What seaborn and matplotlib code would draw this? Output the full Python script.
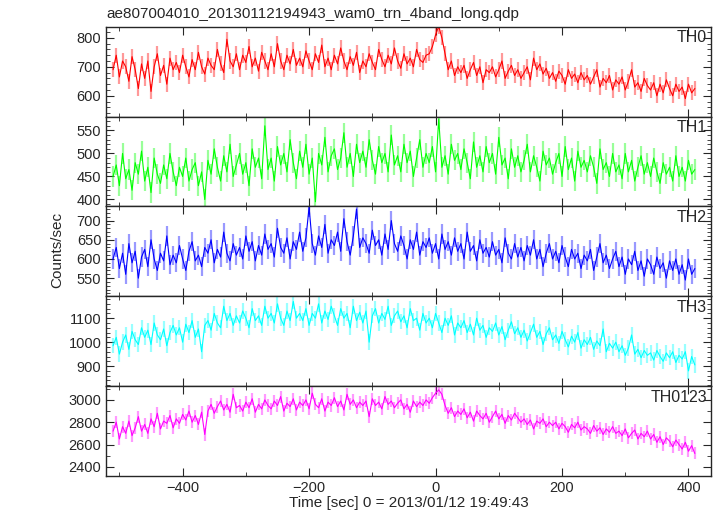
import numpy as np
import pandas as pd
import seaborn as sns
from matplotlib import pyplot as plt
from matplotlib.ticker import MultipleLocator

# light curve values (5 s bins, starting at t = -510 s)
t_start = -510
t_step = 5

th0 = [690, 740, 665, 720, 700, 650, 735, 690, 625, 710,
       660, 720, 615, 700, 745, 670, 705, 640, 730, 690,
       715, 680, 740, 700, 665, 725, 690, 750, 700, 675,
       730, 705, 690, 760, 710, 680, 795, 720, 700, 745,
       690, 740, 715, 770, 700, 730, 685, 750, 720, 690,
       745, 700, 780, 720, 690, 740, 710, 760, 705, 730,
       700, 755, 720, 690, 745, 715, 775, 700, 730, 690,
       740, 710, 765, 720, 690, 735, 705, 750, 680, 720,
       700, 745, 715, 690, 760, 725, 700, 740, 710, 765,
       720, 695, 745, 710, 730, 700, 760, 725, 715, 740,
       745, 770, 810, 840, 800, 745, 690, 720, 670, 700,
       680, 705, 660, 690, 715, 670, 700, 645, 690, 680,
       700, 665, 690, 720, 660, 685, 705, 670, 690, 660,
       680, 700, 655, 730, 690, 710, 675, 695, 660, 680,
       650, 685, 670, 640, 690, 660, 675, 645, 680, 655,
       670, 640, 665, 690, 630, 660, 645, 670, 620, 655,
       640, 665, 620, 650, 690, 630, 645, 615, 660, 635,
       620, 645, 600, 640, 610, 655, 625, 600, 640, 615,
       630, 590, 640, 610, 625]

th1 = [450, 475, 430, 500, 445, 465, 420, 480, 455, 505,
       440, 470, 415, 490, 455, 435, 475, 445, 500, 460,
       430, 470, 450, 490, 440, 465, 480, 430, 460, 400,
       485, 455, 510, 470, 440, 495, 460, 520, 450, 475,
       500, 455, 480, 430, 510, 470, 490, 445, 560, 465,
       490, 440, 515, 475, 500, 460, 530, 480, 445, 505,
       470, 520, 455, 490, 395, 500, 475, 535, 460, 495,
       510, 465, 490, 545, 470, 500, 450, 520, 480, 505,
       470, 530, 485, 455, 515, 480, 500, 460, 540, 475,
       495, 460, 520, 480, 505, 450, 490, 530, 470, 500,
       480, 515, 460, 575, 470, 495, 455, 520, 485, 500,
       465, 510, 480, 445, 525, 470, 495, 460, 515, 480,
       500, 455, 535, 475, 490, 445, 510, 470, 495, 460,
       485, 520, 460, 495, 470, 440, 505, 475, 490, 455,
       480, 500, 450, 515, 465, 490, 440, 505, 470, 485,
       460, 495, 470, 435, 510, 465, 480, 450, 500, 460,
       475, 445, 500, 460, 485, 440, 470, 495, 455, 480,
       450, 490, 460, 435, 480, 455, 470, 440, 495, 450,
       470, 440, 485, 455, 465]

th2 = [600, 630, 575, 615, 560, 640, 590, 620, 550, 605,
       625, 580, 650, 600, 570, 615, 595, 660, 585, 610,
       590, 635, 600, 570, 620, 645, 595, 610, 580, 630,
       615, 650, 590, 625, 605, 670, 615, 595, 640, 610,
       630, 600, 660, 620, 645, 595, 635, 610, 665, 625,
       640, 605, 680, 630, 615, 655, 600, 645, 625, 670,
       620, 655, 735, 640, 610, 660, 630, 690, 615, 650,
       635, 670, 620, 705, 645, 610, 660, 730, 630, 655,
       640, 615, 675, 635, 650, 610, 665, 625, 700, 640,
       620, 660, 635, 600, 650, 625, 670, 610, 645, 630,
       655, 615, 640, 600, 665, 625, 645, 610, 655, 620,
       640, 600, 670, 620, 635, 595, 650, 615, 630, 605,
       645, 610, 625, 590, 655, 615, 600, 640, 605, 630,
       595, 635, 610, 650, 600, 625, 580, 615, 640, 600,
       620, 590, 635, 605, 580, 625, 600, 615, 575, 610,
       595, 625, 570, 605, 640, 590, 610, 575, 600, 620,
       580, 605, 560, 600, 585, 620, 570, 595, 555, 600,
       585, 560, 605, 575, 590, 550, 595, 570, 600, 560,
       585, 545, 600, 560, 575]

th3 = [985, 1020, 950, 1000, 1030, 970, 1045, 1010, 990, 1060,
       1020, 1050, 990, 1080, 1030, 1010, 1055, 985, 1040, 1070,
       1030, 1060, 1000, 1075, 1040, 1090, 1020, 1055, 960, 1070,
       1090, 1050, 1120, 1080, 1060, 1150, 1090, 1120, 1070, 1110,
       1080, 1130, 1100, 1060, 1140, 1090, 1110, 1070, 1150, 1100,
       1120, 1080, 1160, 1100, 1070, 1130, 1090, 1170, 1100, 1120,
       1090, 1140, 1070, 1120, 1100, 1160, 1080, 1130, 1095, 1150,
       1110, 1070, 1140, 1100, 1120, 1060, 1150, 1090, 1125, 1080,
       1130, 1000, 1110, 1140, 1080, 1120, 1095, 1150, 1070, 1110,
       1130, 1085, 1110, 1060, 1140, 1090, 1100, 1050, 1120, 1080,
       1100, 1060, 1120, 1080, 1040, 1100, 1070, 1110, 1030, 1080,
       1060, 1090, 1040, 1075, 1030, 1100, 1050, 1070, 1020, 1060,
       1045, 1080, 1030, 1065, 1010, 1050, 1085, 1035, 1060, 1020,
       1050, 1005, 1040, 1075, 1020, 1045, 990, 1035, 1060, 1010,
       1030, 995, 1045, 1010, 980, 1025, 1000, 1040, 975, 1010,
       990, 1020, 970, 1005, 985, 1055, 960, 995, 975, 1000,
       960, 985, 945, 975, 1030, 950, 970, 935, 965, 945,
       955, 925, 965, 940, 920, 955, 935, 960, 915, 945,
       930, 960, 880, 940, 905]

th0123 = [2720, 2800, 2650, 2760, 2700, 2810, 2680, 2750, 2850, 2720,
          2780, 2700, 2830, 2760, 2880, 2740, 2810, 2790, 2860, 2750,
          2830, 2790, 2870, 2820, 2900, 2800, 2860, 2780, 2890, 2690,
          2900, 2960, 2880, 2940, 2990, 2910, 2960, 2890, 3050, 2930,
          2950, 2900, 2980, 2930, 3010, 2890, 2960, 2920, 3000, 2950,
          2920, 2990, 2950, 3030, 2900, 2970, 2940, 3010, 2910, 2980,
          2950, 3000, 2920, 3060, 2960, 2930, 3010, 2900, 2980, 2950,
          3020, 2940, 2990, 2910, 3050, 2960, 3000, 2930, 2980, 2950,
          2990, 2850, 3010, 2950, 2980, 2920, 3030, 2960, 2990, 2930,
          2970, 3000, 2920, 2960, 2890, 2990, 2940, 2980, 2950, 3000,
          2970, 3020, 3060, 3090, 3050, 2950, 2880, 2930, 2850, 2900,
          2870, 2920, 2840, 2890, 2810, 2900, 2860, 2830, 2880, 2800,
          2850, 2900, 2830, 2870, 2790, 2860, 2820, 2880, 2840, 2800,
          2830, 2780, 2820, 2740, 2810, 2790, 2830, 2760, 2800, 2770,
          2800, 2740, 2790, 2760, 2710, 2780, 2750, 2800, 2730, 2760,
          2740, 2700, 2770, 2720, 2750, 2690, 2740, 2710, 2760, 2700,
          2720, 2680, 2740, 2660, 2700, 2730, 2650, 2700, 2670, 2720,
          2650, 2690, 2620, 2670, 2600, 2660, 2630, 2580, 2640, 2600,
          2560, 2620, 2540, 2590, 2520]

# typical 1-sigma error per band (counts/sec)
errors = [26, 22, 25, 32, 54]

bands = ['TH0', 'TH1', 'TH2', 'TH3', 'TH0123']
series = [th0, th1, th2, th3, th0123]
colors = ['#ff0000', '#00ff00', '#0000ff', '#00ffff', '#ff00ff']
ylims = [(528, 838), (385, 580), (503, 737), (817, 1192), (2320, 3125)]
ymajor = [100, 50, 50, 100, 200]
yminor = [20, 10, 10, 20, 100]

sns.set_style('ticks')
plt.rcParams['font.family'] = ['Liberation Sans', 'DejaVu Sans']
plt.rcParams['font.size'] = 10.5

fig, axes = plt.subplots(5, 1, figsize=(7.17, 5.16), dpi=100, sharex=True)
fig.subplots_adjust(left=0.148, right=0.992, top=0.948, bottom=0.078, hspace=0)

for ax, name, vals, err, col, yl, ma, mi in zip(axes, bands, series, errors, colors,
                                                 ylims, ymajor, yminor):
    df = pd.DataFrame({'time': t_start + t_step * np.arange(len(vals)), 'rate': vals})
    # error bars, drawn faint behind the line
    ax.errorbar(df['time'], df['rate'], yerr=err, fmt='none', ecolor=col,
                elinewidth=1.6, alpha=0.4)
    sns.lineplot(data=df, x='time', y='rate', ax=ax, color=col, lw=0.8)
    ax.set_ylim(*yl)
    ax.set_xlim(-521, 436)
    ax.yaxis.set_major_locator(MultipleLocator(ma))
    ax.yaxis.set_minor_locator(MultipleLocator(mi))
    ax.xaxis.set_major_locator(MultipleLocator(200))
    ax.xaxis.set_minor_locator(MultipleLocator(100))
    ax.tick_params(which='both', direction='in', top=True, right=True, labelsize=10.5)
    ax.tick_params(which='major', length=6, width=0.8)
    ax.tick_params(which='minor', length=3, width=0.6)
    ax.set_xlabel('')
    ax.set_ylabel('')
    for s in ax.spines.values():
        s.set_linewidth(1.0)
    ax.text(0.993, 0.96, name, transform=ax.transAxes, ha='right', va='top', fontsize=11.5)

axes[-1].set_xlabel('Time [sec] 0 = 2013/01/12 19:49:43', fontsize=11, labelpad=1)
fig.text(0.08, 1 - 250 / 516, 'Counts/sec', rotation=90, ha='center', va='center', fontsize=11)
fig.text(0.149, 1 - 14 / 516, 'ae807004010_20130112194943_wam0_trn_4band_long.qdp',
         ha='left', va='center', fontsize=11)

plt.savefig('out.png', dpi=100)
